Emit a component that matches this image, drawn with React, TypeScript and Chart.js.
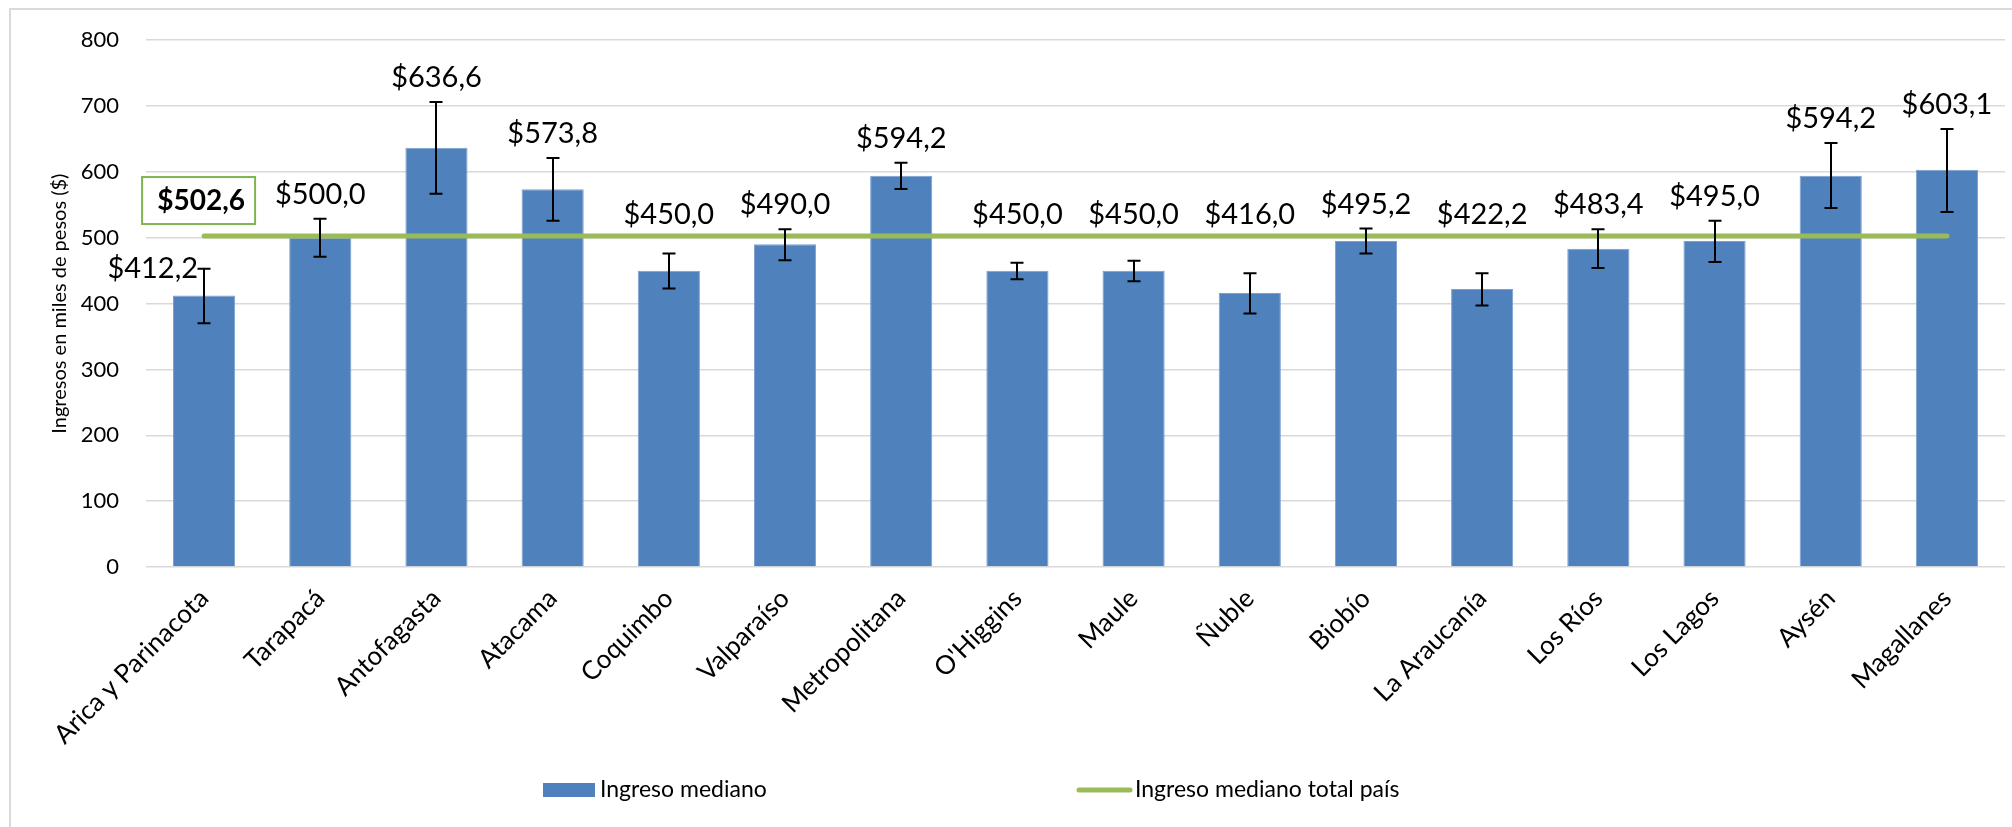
import React, { useEffect, useRef } from "react";
import { Chart, registerables } from "chart.js";

Chart.register(...registerables);

const regions = [
  "Arica y Parinacota", "Tarapacá", "Antofagasta", "Atacama", "Coquimbo", "Valparaíso",
  "Metropolitana", "O'Higgins", "Maule", "Ñuble", "Biobío", "La Araucanía",
  "Los Ríos", "Los Lagos", "Aysén", "Magallanes",
];
const medianIncome = [412.2, 500.0, 636.6, 573.8, 450.0, 490.0, 594.2, 450.0, 450.0, 416.0, 495.2, 422.2, 483.4, 495.0, 594.2, 603.1];
const errHigh = [453, 529, 706, 621, 476, 513, 614, 462, 465, 446, 514, 446, 513, 526, 644, 665];
const errLow = [370, 471, 567, 526, 423, 466, 574, 437, 434, 385, 476, 397, 454, 463, 545, 539];
const nationalMedian = 502.6;
const yTicks = [0, 100, 200, 300, 400, 500, 600, 700, 800];

const FONT = "Lato, 'Open Sans', sans-serif";
const BLUE = "#4F81BD";
const GREEN = "#9BBB59";

const fmt = (v: number) => "$" + v.toFixed(1).replace(".", ",");

const overlayPlugin = {
  id: "overlay",
  afterDatasetsDraw(chart: any) {
    const { ctx } = chart;
    const y = chart.scales.y;
    const barMeta = chart.getDatasetMeta(0);
    const lineMeta = chart.getDatasetMeta(1);
    const lineY = lineMeta.data[0].y;
    ctx.save();
    // error bars
    ctx.strokeStyle = "#000";
    ctx.lineWidth = 2;
    barMeta.data.forEach((bar: any, i: number) => {
      const x = Math.round(bar.x);
      const yh = y.getPixelForValue(errHigh[i]);
      const yl = y.getPixelForValue(errLow[i]);
      ctx.beginPath();
      ctx.moveTo(x, yh);
      ctx.lineTo(x, yl);
      ctx.moveTo(x - 6.5, yh);
      ctx.lineTo(x + 6.5, yh);
      ctx.moveTo(x - 6.5, yl);
      ctx.lineTo(x + 6.5, yl);
      ctx.stroke();
    });
    // data labels
    ctx.fillStyle = "#000";
    ctx.font = `29px ${FONT}`;
    ctx.textBaseline = "alphabetic";
    barMeta.data.forEach((bar: any, i: number) => {
      const yh = y.getPixelForValue(errHigh[i]);
      if (i === 0) {
        ctx.textAlign = "right";
        ctx.fillText(fmt(medianIncome[i]), bar.x - 6, yh + 9);
        return;
      }
      ctx.textAlign = "center";
      const base = Math.min(yh - 15, lineY - 12);
      ctx.fillText(fmt(medianIncome[i]), bar.x, base);
    });
    // national median label box
    const p0 = lineMeta.data[0];
    const bx = p0.x - 62;
    const by = p0.y - 59;
    ctx.fillStyle = "#fff";
    ctx.fillRect(bx, by, 113, 47);
    ctx.strokeStyle = "#7DB550";
    ctx.lineWidth = 2;
    ctx.strokeRect(bx, by, 113, 47);
    ctx.fillStyle = "#000";
    ctx.font = `bold 28px ${FONT}`;
    ctx.textAlign = "center";
    ctx.textBaseline = "middle";
    ctx.fillText(fmt(nationalMedian), p0.x - 3, p0.y - 35);
    ctx.restore();
  },
  afterDraw(chart: any) {
    const { ctx } = chart;
    ctx.save();
    // legend
    ctx.fillStyle = BLUE;
    ctx.fillRect(543, 783, 52, 14);
    ctx.strokeStyle = GREEN;
    ctx.lineWidth = 5;
    ctx.lineCap = "round";
    ctx.beginPath();
    ctx.moveTo(1079, 790);
    ctx.lineTo(1130, 790);
    ctx.stroke();
    ctx.fillStyle = "#000";
    ctx.font = `23px ${FONT}`;
    ctx.textAlign = "left";
    ctx.textBaseline = "middle";
    ctx.fillText("Ingreso mediano", 600, 790);
    ctx.fillText("Ingreso mediano total país", 1135, 790);
    // outer border
    ctx.strokeStyle = "#d9d9d9";
    ctx.lineWidth = 2;
    ctx.lineCap = "butt";
    ctx.strokeRect(10, 9, 2020, 840);
    ctx.restore();
  },
};

export default function App() {
  const ref = useRef<HTMLCanvasElement | null>(null);
  useEffect(() => {
    document.body.style.margin = "0";
    const canvas = ref.current!;
    const chart = new Chart(canvas, {
      type: "bar",
      data: {
        labels: regions,
        datasets: [
          {
            type: "bar",
            label: "Ingreso mediano",
            data: medianIncome,
            backgroundColor: BLUE,
            borderColor: "#7A9FD0",
            borderWidth: 1,
            barPercentage: 0.535,
            categoryPercentage: 1,
            order: 2,
          },
          {
            type: "line",
            label: "Ingreso mediano total país",
            data: regions.map(() => nationalMedian),
            borderColor: GREEN,
            borderWidth: 5,
            borderCapStyle: "round",
            pointRadius: 0,
            fill: false,
            order: 1,
          } as any,
        ],
      },
      options: {
        responsive: false,
        animation: false,
        devicePixelRatio: 1,
        layout: { padding: { top: 38, right: 7, left: 0, bottom: 0 } },
        plugins: { legend: { display: false }, tooltip: { enabled: false } },
        scales: {
          x: {
            grid: { display: false },
            border: { display: false },
            ticks: {
              color: "#000",
              font: { family: FONT, size: 26 },
              minRotation: 45,
              maxRotation: 45,
              padding: 8,
              autoSkip: false,
            },
            afterFit(scale: any) {
              scale.height = 260;
            },
          },
          y: {
            min: 0,
            max: 800,
            afterBuildTicks(scale: any) {
              scale.ticks = yTicks.map((v) => ({ value: v }));
            },
            grid: { color: "#d9d9d9", lineWidth: 1.5, drawTicks: false },
            border: { display: false },
            ticks: {
              color: "#000",
              font: { family: FONT, size: 22 },
              padding: 27,
            },
            title: {
              display: true,
              text: "Ingresos en miles de pesos ($)",
              color: "#000",
              font: { family: FONT, size: 20 },
              padding: { top: 48, bottom: 0 },
            },
            afterFit(scale: any) {
              scale.width = 146;
            },
          },
        },
      },
      plugins: [overlayPlugin],
    });
    return () => chart.destroy();
  }, []);
  return (
    <div style={{ width: 2012, height: 827, background: "#fff" }}>
      <canvas ref={ref} width={2012} height={827} style={{ display: "block" }} />
    </div>
  );
}
